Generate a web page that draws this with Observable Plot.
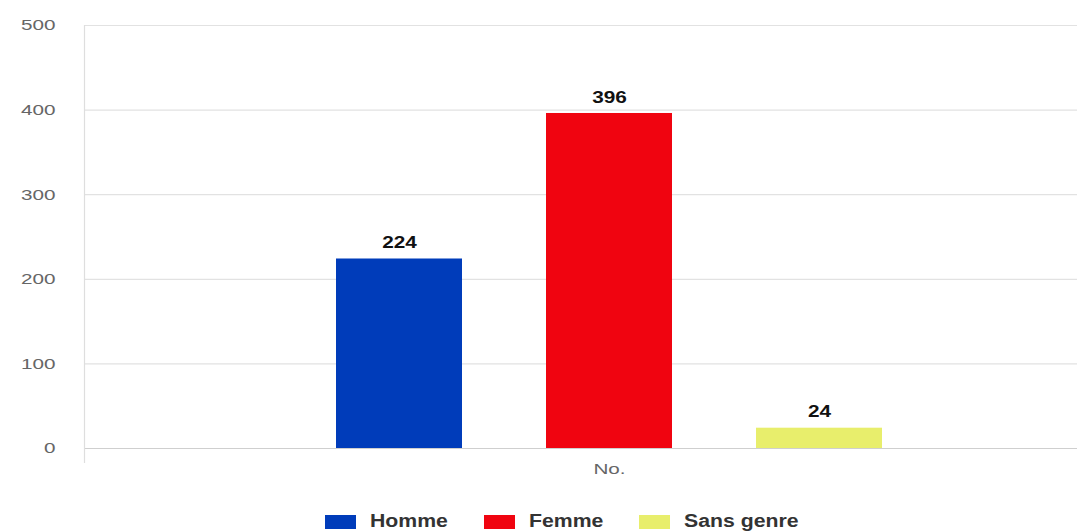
<!DOCTYPE html>
<html>
<head>
<meta charset="utf-8">
<script src="https://cdn.jsdelivr.net/npm/d3@7"></script>
<script src="https://cdn.jsdelivr.net/npm/@observablehq/plot@0.6"></script>
<style>
  html, body { margin: 0; padding: 0; background: #fff; }
  body { width: 1077px; height: 532px; overflow: hidden; font-family: "Liberation Sans", Arial, sans-serif; }
  #legend { display: flex; justify-content: flex-start; align-items: center; margin-left: 325px; margin-top: 31px; }
  .item { display: flex; align-items: center; }
  .sw { width: 31px; height: 14px; margin-right: 14px; }
  .lab { display: inline-block; font-weight: bold; font-size: 18px; color: #333; transform: scaleX(1.18); transform-origin: 0 50%; white-space: nowrap; }
</style>
</head>
<body>
<div id="chart"></div>
<div id="legend"></div>
<script>
const categories = ["Homme", "Femme", "Sans genre"];
const values = [224, 396, 24];
const colors = ["#003cba", "#f00410", "#e8ee6c"];
const yTicks = [0, 100, 200, 300, 400, 500];
const xLabel = "No.";

const data = categories.map((c, i) => ({category: c, value: values[i]}));

const chart = Plot.plot({
  width: 1077,
  height: 480,
  marginLeft: 84,
  marginRight: 0,
  marginTop: 25,
  marginBottom: 32,
  style: {fontFamily: "Liberation Sans, Arial, sans-serif", background: "#fff"},
  x: {domain: categories, range: [293, 925], paddingInner: 0.398, paddingOuter: 0.199, axis: null},
  y: {domain: [0, 500], axis: null},
  color: {domain: categories, range: colors},
  marks: [
    Plot.ruleY(yTicks.filter(d => d > 0), {stroke: "#e2e2e2", strokeWidth: 1.2}),
    Plot.ruleY([0], {stroke: "#cfcfcf", strokeWidth: 1.2}),
    Plot.frame({anchor: "left", stroke: "#dedede", strokeWidth: 1.2, insetBottom: -14}),
    Plot.axisY({ticks: yTicks, tickSize: 0, tickPadding: 29, fontSize: 15, fill: "#666", stroke: null, label: null, className: "stretch-axis"}),
    Plot.axisX({ticks: [categories[1]], tickFormat: () => xLabel, tickSize: 0, tickPadding: 15, fontSize: 15, fill: "#666", label: null, className: "stretch-axis"}),
    Plot.barY(data, {x: "category", y: "value", fill: "category"}),
    Plot.text(data, {x: "category", y: "value", text: d => String(d.value), dy: -16, fontWeight: "bold", fontSize: 16, fill: "#111", className: "stretch-val"})
  ]
});
document.getElementById("chart").appendChild(chart);

// horizontally widen glyphs like the reference's stretched rendering
function stretch(sel, s) {
  chart.querySelectorAll(sel).forEach(el => {
    const t = el.getAttribute("transform") || "";
    const xa = el.getAttribute("x");
    const x = xa && /^-?[\d.]+$/.test(xa) ? +xa : 0;
    el.setAttribute("transform", `${t} translate(${x},0) scale(${s},1) translate(${-x},0)`.trim());
  });
}
stretch(".stretch-axis text", 1.38);
stretch(".stretch-val text", 1.3);

const legend = document.getElementById("legend");
const gaps = [36, 36, 0];
categories.forEach((c, i) => {
  const item = document.createElement("div");
  item.className = "item";
  const sw = document.createElement("div");
  sw.className = "sw";
  sw.style.background = colors[i];
  const lab = document.createElement("span");
  lab.className = "lab";
  lab.textContent = c;
  item.appendChild(sw);
  item.appendChild(lab);
  legend.appendChild(item);
  lab.style.marginRight = (lab.offsetWidth * 0.18 + gaps[i]) + "px";
});
</script>
</body>
</html>
